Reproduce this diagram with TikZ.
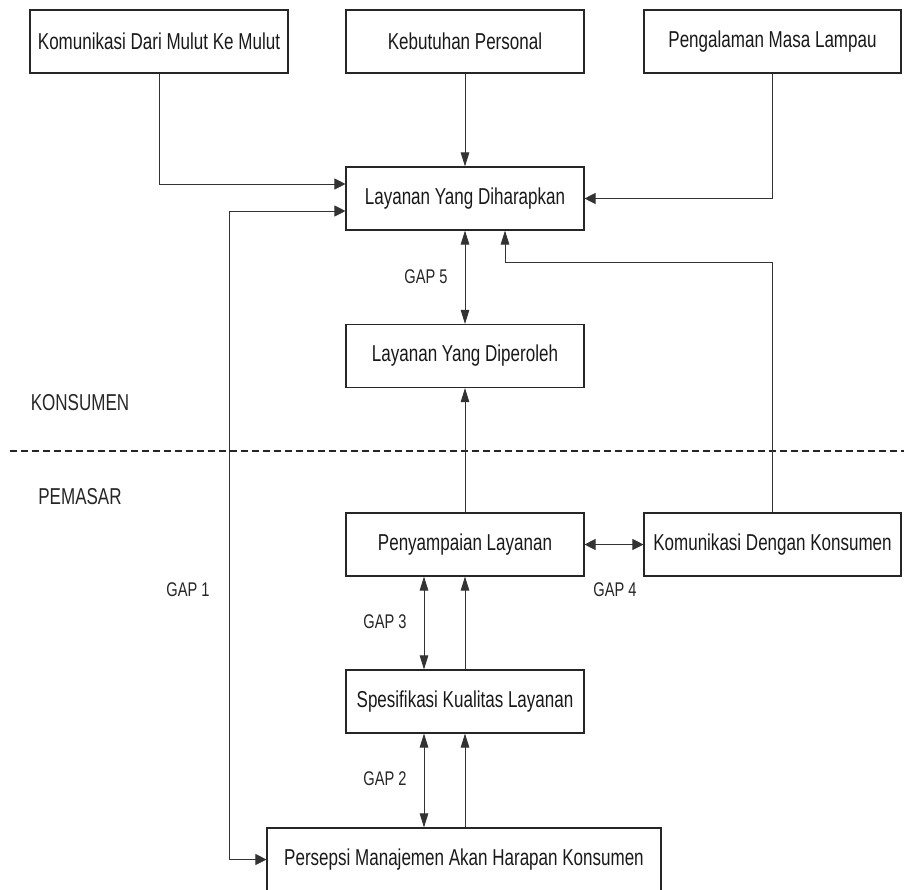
\documentclass[tikz,border=0pt]{standalone}
\usepackage{fontspec}
\setmainfont{Liberation Sans}[FakeStretch=0.74]
\usetikzlibrary{arrows.meta}
\begin{document}
\begin{tikzpicture}[x=1pt,y=-1pt,
  box/.style={draw=black!85, line width=1.1pt, minimum height=63pt, inner sep=0pt, font=\fontsize{23}{27}\selectfont, text=black!90},
  side/.style={inner sep=0pt, font=\fontsize{23}{27}\selectfont, text=black!85},
  lbl/.style={inner sep=0pt, font=\fontsize{19.8}{23}\selectfont, text=black!85},
  conn/.style={draw=black!80, line width=0.9pt},
  va/.style={conn, -{Triangle[length=14pt,width=8.5pt]}},
  vab/.style={conn, {Triangle[length=14pt,width=8.5pt]}-{Triangle[length=14pt,width=8.5pt]}},
  ha/.style={conn, -{Triangle[length=11pt,width=11pt]}},
  hab/.style={conn, {Triangle[length=11pt,width=11pt]}-{Triangle[length=11pt,width=11pt]}},
  divider/.style={draw=black!85, line width=1.5pt, dash pattern=on 7pt off 4pt}
]
\useasboundingbox (0,0) rectangle (904,889);

\node[box, minimum width=258pt] (b1) at (159,41.5) {Komunikasi Dari Mulut Ke Mulut};
\node[box, minimum width=238pt] (b2) at (465,41.5) {Kebutuhan Personal};
\node[box, minimum width=257pt] (b3) at (772.5,41.5) {Pengalaman Masa Lampau};
\node[box, minimum width=238pt] (ld) at (465,198.5) {Layanan Yang Diharapkan};
\node[box, minimum width=238pt] (lp) at (465,356) {Layanan Yang Diperoleh};
\node[box, minimum width=238pt] (pl) at (465,544.5) {Penyampaian Layanan};
\node[box, minimum width=257pt] (kk) at (772.5,544.5) {Komunikasi Dengan Konsumen};
\node[box, minimum width=238pt] (sk) at (465,701.5) {Spesifikasi Kualitas Layanan};
\node[box, minimum width=394pt] (pm) at (464,859.5) {Persepsi Manajemen Akan Harapan Konsumen};

\node[side] (kons) at (80,403) {KONSUMEN};
\node[side] (pem) at (80,497) {PEMASAR};
\node[lbl] (gap5) at (426,277) {GAP 5};
\node[lbl] (gap1) at (188,590) {GAP 1};
\node[lbl] (gap4) at (615,590) {GAP 4};
\node[lbl] (gap3) at (385,622) {GAP 3};
\node[lbl] (gap2) at (385,779) {GAP 2};

\coordinate (dl) at (10,451);
\coordinate (dr) at (904,451);
\draw[divider] (dl) -- (dr);

\coordinate (c1) at (159,184);
\draw[ha] (b1.south) -- (c1) -- (c1 -| ld.west);
\draw[va] (b2.south) -- (ld.north);
\draw[ha] (b3.south) |- (ld.east);

\coordinate (g1t) at (229,211);
\coordinate (g1b) at (229,859.5);
\draw[hab] (g1t -| ld.west) -- (g1t) -- (g1b) -- (pm.west);

\draw[vab] (ld.south) -- (lp.north);
\draw[va] (pl.north) -- (lp.south);

\coordinate (kt) at (505,262);
\draw[va] (kk.north) |- (kt) -- (kt |- ld.south);

\draw[hab] (pl.east) -- (kk.west);

\draw[vab] ([xshift=-41pt]pl.south) -- ([xshift=-41pt]sk.north);
\draw[va] (sk.north) -- (pl.south);
\draw[vab] ([xshift=-41pt]sk.south) -- ([xshift=-41pt]sk.south |- pm.north);
\draw[va] (sk.south |- pm.north) -- (sk.south);
\end{tikzpicture}
\end{document}
